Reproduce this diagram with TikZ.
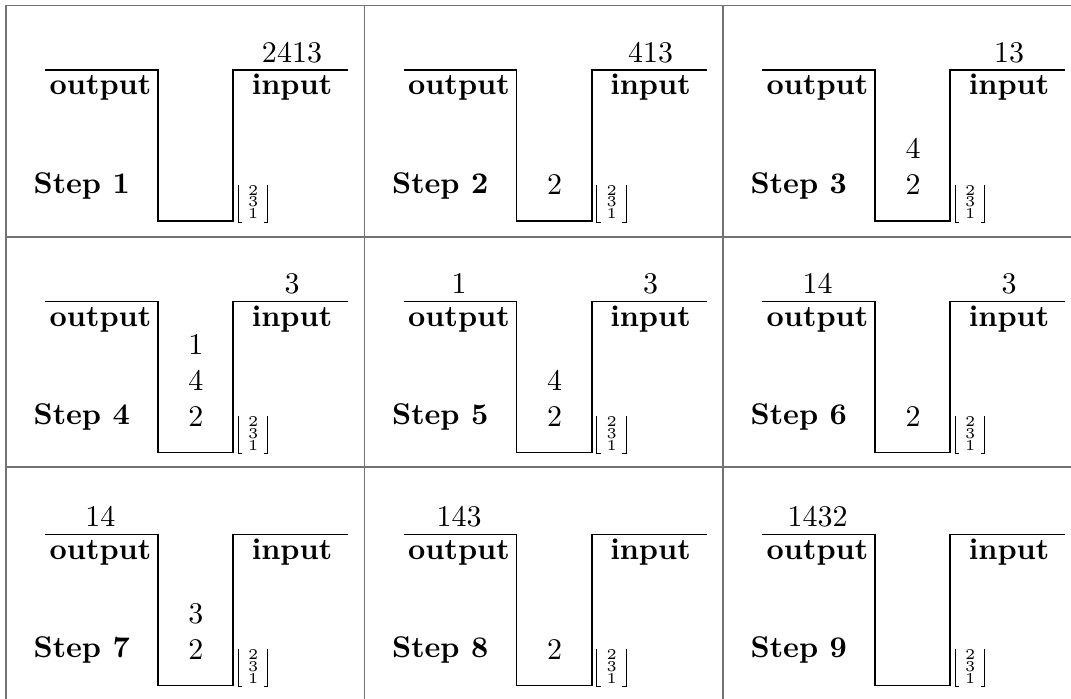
\documentclass[tikz,border=0pt]{standalone}
\tikzset{
  ledge/.style={line width=0.55pt},
  gridline/.style={line width=0.5pt, black!55},
  label/.style={anchor=base, inner sep=0pt},
  stackbox/.style={font={\fontsize{5}{3.9}\selectfont}, align=center, inner sep=0pt},
}
\begin{document}
\begin{tikzpicture}[x=0.3333pt, y=-0.3333pt]
\useasboundingbox (0,0) rectangle (1071,699);

% Table rules
\draw[gridline] (6,5.5) -- (1071,5.5);
\foreach \y in {237,467}
    \draw[gridline] (6,\y) -- (1071,\y);
\foreach \x in {6,364.5,723}
    \draw[gridline] (\x,5.5) -- (\x,699);

% Cells
\foreach \n/\cx/\cy/\outv/\inv/\pit in {1/6/5.5/{}/2413/{}, 2/364.5/5.5/{}/413/2, 3/723/5.5/{}/13/{4\\2},
    4/6/237/{}/3/{1\\4\\2}, 5/364.5/237/1/3/{4\\2}, 6/723/237/14/3/2,
    7/6/470/14/{}/{3\\2}, 8/364.5/470/143/{}/2, 9/723/470/1432/{}/{}}
{
  \begin{scope}[shift={(\cx,\cy)}]
    % track and pit
    \draw[ledge] (39,64.5) -- (152,64.5) -- (152,215.5) -- (227.3,215.5) -- (227.3,64.5) -- (342,64.5);
    \node[label, font=\bfseries] (out\n) at (94.5,89.5) {output};
    \node[label, font=\bfseries] (in\n) at (286,89.5) {input};
    \node[label] (outv\n) at (94.5,57) {\outv};
    \node[label] (inv\n) at (286,57) {\inv};
    \node[anchor=base west, inner sep=0pt, font=\bfseries] (step\n) at (27,188) {Step \n};
    \node[anchor=south, align=center, inner sep=0pt] (pit\n) at (190,190) {\pit};
    % side stack
    \node[stackbox] (side\n) at (247.3,196.5) {2\\3\\1};
    \draw[line width=0.4pt] (232.3,179.5) -- (232.3,216.8) -- (236.3,216.8);
    \draw[line width=0.4pt] (261.7,179.5) -- (261.7,216.8) -- (257.7,216.8);
  \end{scope}
}
\end{tikzpicture}
\end{document}
